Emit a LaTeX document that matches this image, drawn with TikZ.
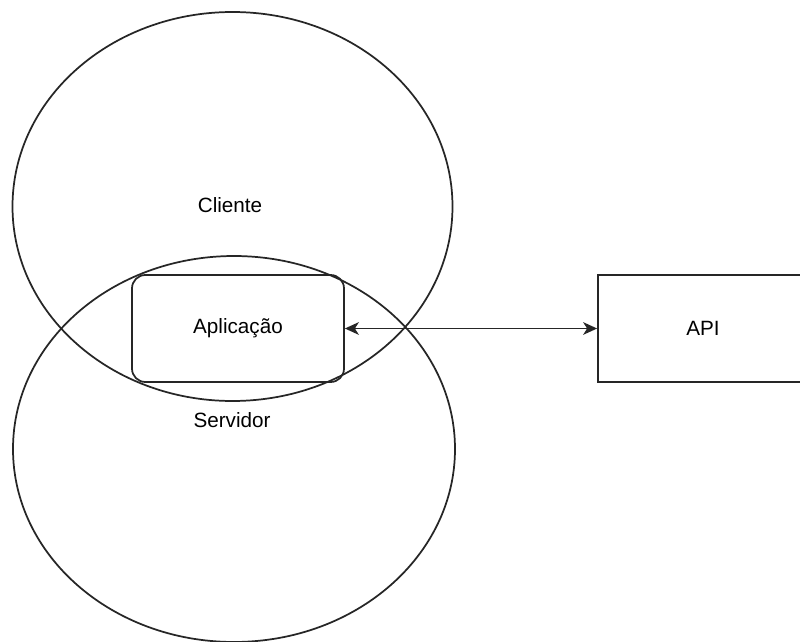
\documentclass[tikz,border=0pt]{standalone}
\usepackage{fontspec}
\setmainfont{Liberation Sans}
\usetikzlibrary{arrows.meta}

\begin{document}
\begin{tikzpicture}[x=0.75pt, y=-0.75pt,
  outline/.style={draw=black!85, line width=1.3pt},
  label/.style={font=\fontsize{15.5}{18}\selectfont, text=black},
  appbox/.style={outline, rounded corners=10pt, minimum width=212*0.75pt, minimum height=107*0.75pt, inner sep=0pt},
  apibox/.style={outline, minimum width=210*0.75pt, minimum height=107*0.75pt, inner sep=0pt},
  link/.style={outline, {Stealth[length=10.5pt, width=9.5pt, inset=3pt]}-{Stealth[length=10.5pt, width=9.5pt, inset=3pt]}}
]
\useasboundingbox[fill=white] (0,0) rectangle (800,642);

% the two overlapping sides
\draw[outline] (232.5,206.5) ellipse [x radius=220*0.75pt, y radius=194.5*0.75pt];
\draw[outline] (234,449) ellipse [x radius=221*0.75pt, y radius=193*0.75pt];

\node[label] (cliente) at (230,205) {Cliente};
\node[label] (servidor) at (232,420) {Servidor};

% application in the shared region, and the external API
\node[appbox, label] (app) at (238,328.5) {Aplicação};
\node[apibox, label] (api) at (703,328.5) {API};

\draw[link] (app.east) -- (api.west);
\end{tikzpicture}
\end{document}
